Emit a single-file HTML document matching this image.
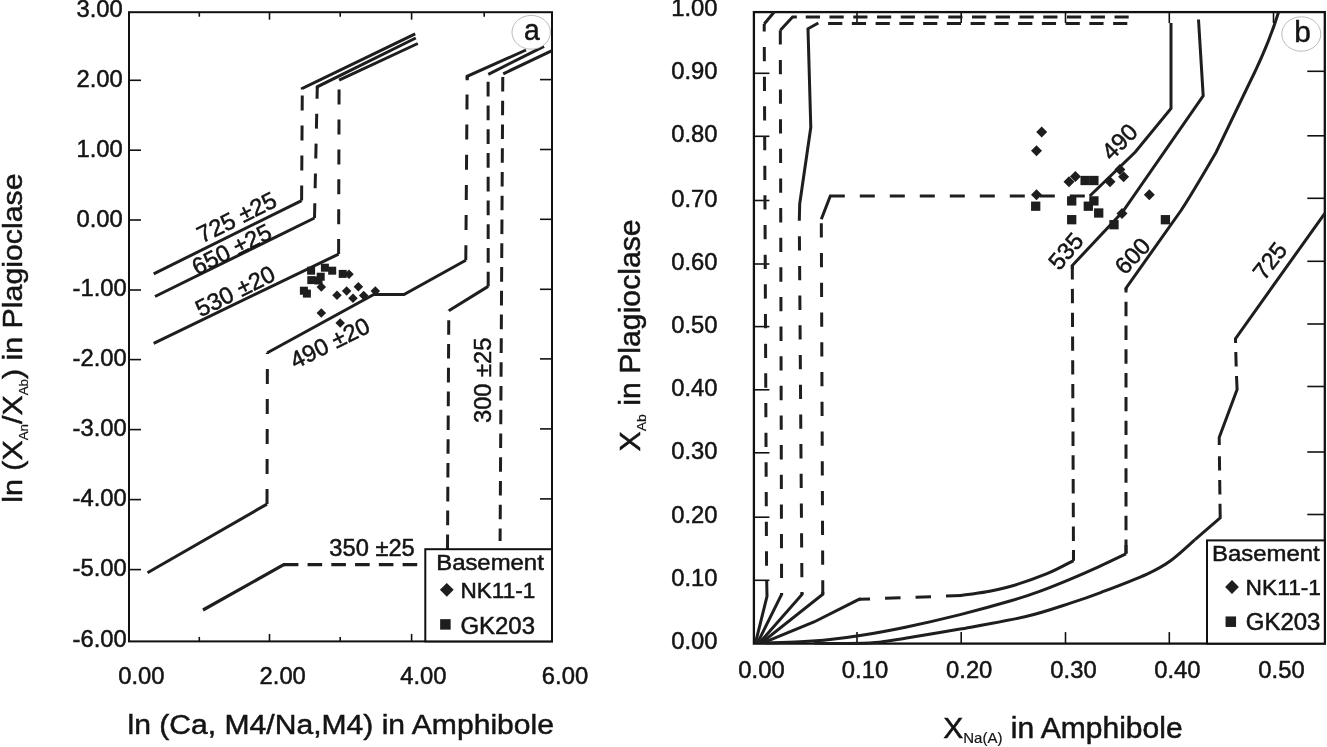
<!DOCTYPE html>
<html><head><meta charset="utf-8"><title>Figure</title>
<style>
html,body{margin:0;padding:0;background:#fff;}
body{width:1327px;height:747px;overflow:hidden;}
svg{display:block;}
svg text{font-family:"Liberation Sans",sans-serif;fill:#141414;stroke:#141414;stroke-width:0.5px;}
</style></head><body>
<svg width="1327" height="747" viewBox="0 0 1327 747">
<rect x="0" y="0" width="1327" height="747" fill="#fff"/>
<rect x="129" y="12.2" width="423" height="629.1999999999999" fill="none" stroke="#111" stroke-width="2"/>
<line x1="129" y1="80.3" x2="141" y2="80.3" stroke="#111" stroke-width="1.6" />
<line x1="540" y1="79.6" x2="552" y2="79.6" stroke="#111" stroke-width="1.6" />
<text x="0" y="0" font-size="23.8" text-anchor="middle" transform="translate(99.6,86.8)" >2.00</text>
<line x1="129" y1="150.2" x2="141" y2="150.2" stroke="#111" stroke-width="1.6" />
<line x1="540" y1="149.5" x2="552" y2="149.5" stroke="#111" stroke-width="1.6" />
<text x="0" y="0" font-size="23.8" text-anchor="middle" transform="translate(99.6,156.7)" >1.00</text>
<line x1="129" y1="220" x2="141" y2="220" stroke="#111" stroke-width="1.6" />
<line x1="540" y1="219.3" x2="552" y2="219.3" stroke="#111" stroke-width="1.6" />
<text x="0" y="0" font-size="23.8" text-anchor="middle" transform="translate(99.6,226.5)" >0.00</text>
<line x1="129" y1="290" x2="141" y2="290" stroke="#111" stroke-width="1.6" />
<line x1="540" y1="289.3" x2="552" y2="289.3" stroke="#111" stroke-width="1.6" />
<text x="0" y="0" font-size="23.8" text-anchor="middle" transform="translate(99.6,295.9)" >-1.00</text>
<line x1="129" y1="359.6" x2="141" y2="359.6" stroke="#111" stroke-width="1.6" />
<line x1="540" y1="358.90000000000003" x2="552" y2="358.90000000000003" stroke="#111" stroke-width="1.6" />
<text x="0" y="0" font-size="23.8" text-anchor="middle" transform="translate(99.6,365.5)" >-2.00</text>
<line x1="129" y1="429.6" x2="141" y2="429.6" stroke="#111" stroke-width="1.6" />
<line x1="540" y1="428.90000000000003" x2="552" y2="428.90000000000003" stroke="#111" stroke-width="1.6" />
<text x="0" y="0" font-size="23.8" text-anchor="middle" transform="translate(99.6,435.5)" >-3.00</text>
<line x1="129" y1="499.6" x2="141" y2="499.6" stroke="#111" stroke-width="1.6" />
<line x1="540" y1="498.90000000000003" x2="552" y2="498.90000000000003" stroke="#111" stroke-width="1.6" />
<text x="0" y="0" font-size="23.8" text-anchor="middle" transform="translate(99.6,505.5)" >-4.00</text>
<line x1="129" y1="569.6" x2="141" y2="569.6" stroke="#111" stroke-width="1.6" />
<line x1="540" y1="568.9" x2="552" y2="568.9" stroke="#111" stroke-width="1.6" />
<text x="0" y="0" font-size="23.8" text-anchor="middle" transform="translate(99.6,575.5)" >-5.00</text>
<text x="0" y="0" font-size="23.8" text-anchor="middle" transform="translate(99.6,16.7)" >3.00</text>
<text x="0" y="0" font-size="23.8" text-anchor="middle" transform="translate(99.6,646.5)" >-6.00</text>
<line x1="199.3" y1="12.2" x2="199.3" y2="16.7" stroke="#111" stroke-width="1.6" />
<line x1="199.3" y1="641.4" x2="199.3" y2="636.9" stroke="#111" stroke-width="1.6" />
<line x1="269.5" y1="12.2" x2="269.5" y2="19.7" stroke="#111" stroke-width="1.6" />
<line x1="269.5" y1="641.4" x2="269.5" y2="633.9" stroke="#111" stroke-width="1.6" />
<line x1="340.2" y1="12.2" x2="340.2" y2="16.7" stroke="#111" stroke-width="1.6" />
<line x1="340.2" y1="641.4" x2="340.2" y2="636.9" stroke="#111" stroke-width="1.6" />
<line x1="411.6" y1="12.2" x2="411.6" y2="19.7" stroke="#111" stroke-width="1.6" />
<line x1="411.6" y1="641.4" x2="411.6" y2="633.9" stroke="#111" stroke-width="1.6" />
<line x1="484.2" y1="12.2" x2="484.2" y2="16.7" stroke="#111" stroke-width="1.6" />
<text x="0" y="0" font-size="23.8" text-anchor="middle" transform="translate(141.4,684.2)" >0.00</text>
<text x="0" y="0" font-size="23.8" text-anchor="middle" transform="translate(282.7,684.2)" >2.00</text>
<text x="0" y="0" font-size="23.8" text-anchor="middle" transform="translate(423.4,684.2)" >4.00</text>
<text x="0" y="0" font-size="23.8" text-anchor="middle" transform="translate(565,684.2)" >6.00</text>
<text x="0" y="0" font-size="28.4" text-anchor="middle" transform="translate(340.75,734) scale(1.06,1)" >ln (Ca, M4/Na,M4) in Amphibole</text>
<text transform="translate(22.3,338) rotate(-90) scale(1.068,1)" text-anchor="middle" font-size="28.4">ln (X<tspan font-size="12.5" dy="5.5" stroke-width="0.2">An</tspan><tspan dy="-5.5">/X</tspan><tspan font-size="12.5" dy="5.5" stroke-width="0.2">Ab</tspan><tspan dy="-5.5">) in Plagioclase</tspan></text>
<polyline points="153.7,273.8 301.6,200.6" fill="none" stroke="#1e1e1e" stroke-width="3.0" stroke-linejoin="miter" stroke-linecap="butt"/>
<polyline points="301.6,200.6 302.3,88.4" fill="none" stroke="#1e1e1e" stroke-width="3.0" stroke-linejoin="miter" stroke-linecap="butt" stroke-dasharray="15 15" stroke-dashoffset="0"/>
<polyline points="302.3,89.5 302.3,88.4 415.2,33.8" fill="none" stroke="#1e1e1e" stroke-width="3.0" stroke-linejoin="miter" stroke-linecap="butt"/>
<polyline points="155,296.5 314.5,218" fill="none" stroke="#1e1e1e" stroke-width="3.0" stroke-linejoin="miter" stroke-linecap="butt"/>
<polyline points="314.5,218 317.3,86.8" fill="none" stroke="#1e1e1e" stroke-width="3.0" stroke-linejoin="miter" stroke-linecap="butt" stroke-dasharray="14.8 15" stroke-dashoffset="0"/>
<polyline points="317.3,88.5 317.3,86.8 415.8,38" fill="none" stroke="#1e1e1e" stroke-width="3.0" stroke-linejoin="miter" stroke-linecap="butt"/>
<polyline points="153.7,343.3 338.6,254.1" fill="none" stroke="#1e1e1e" stroke-width="3.0" stroke-linejoin="miter" stroke-linecap="butt"/>
<polyline points="338.6,254.1 339.1,80.1" fill="none" stroke="#1e1e1e" stroke-width="3.0" stroke-linejoin="miter" stroke-linecap="butt" stroke-dasharray="15 14.9" stroke-dashoffset="0"/>
<polyline points="339.1,80.1 417.8,43.5" fill="none" stroke="#1e1e1e" stroke-width="3.0" stroke-linejoin="miter" stroke-linecap="butt"/>
<polyline points="267.4,352.8 373.8,294.5 404,294.5 465.8,260.2" fill="none" stroke="#1e1e1e" stroke-width="3.0" stroke-linejoin="miter" stroke-linecap="butt"/>
<polyline points="465.8,260.2 467.2,76.3" fill="none" stroke="#1e1e1e" stroke-width="3.0" stroke-linejoin="miter" stroke-linecap="butt" stroke-dasharray="15 15.15" stroke-dashoffset="0"/>
<polyline points="467.2,80.2 467.2,76.3 526,50" fill="none" stroke="#1e1e1e" stroke-width="3.0" stroke-linejoin="miter" stroke-linecap="butt"/>
<polyline points="267,504.1 267.4,352.8" fill="none" stroke="#1e1e1e" stroke-width="3.0" stroke-linejoin="miter" stroke-linecap="butt" stroke-dasharray="15 15" stroke-dashoffset="0"/>
<polyline points="267.4,354 267.4,352.8" fill="none" stroke="#1e1e1e" stroke-width="3.0" stroke-linejoin="miter" stroke-linecap="butt"/>
<polyline points="267,504.1 147.5,572.8" fill="none" stroke="#1e1e1e" stroke-width="3.0" stroke-linejoin="miter" stroke-linecap="butt"/>
<polyline points="448.8,310.7 488.2,286.4" fill="none" stroke="#1e1e1e" stroke-width="3.0" stroke-linejoin="miter" stroke-linecap="butt"/>
<polyline points="488.2,286.4 488.1,81" fill="none" stroke="#1e1e1e" stroke-width="3.0" stroke-linejoin="miter" stroke-linecap="butt" stroke-dasharray="14.6 9.15" stroke-dashoffset="0"/>
<polyline points="488.3,74.3 544,46.3" fill="none" stroke="#1e1e1e" stroke-width="3.0" stroke-linejoin="miter" stroke-linecap="butt"/>
<polyline points="447.5,549 448.8,310.7" fill="none" stroke="#1e1e1e" stroke-width="3.0" stroke-linejoin="miter" stroke-linecap="butt" stroke-dasharray="14.6 9.2" stroke-dashoffset="0"/>
<polyline points="203,610 283.8,564.7 285,564.7" fill="none" stroke="#1e1e1e" stroke-width="3.2" stroke-linejoin="miter" stroke-linecap="butt"/>
<polyline points="283.8,564.7 425,564.7" fill="none" stroke="#1e1e1e" stroke-width="3.2" stroke-linejoin="miter" stroke-linecap="butt" stroke-dasharray="14.6 9.16" stroke-dashoffset="0"/>
<polyline points="503.2,73.8 552,50.6" fill="none" stroke="#1e1e1e" stroke-width="3.0" stroke-linejoin="miter" stroke-linecap="butt"/>
<polyline points="502.8,73.8 500.1,541" fill="none" stroke="#1e1e1e" stroke-width="3.0" stroke-linejoin="miter" stroke-linecap="butt" stroke-dasharray="14.6 9.17" stroke-dashoffset="-3.1"/>
<text x="0" y="0" font-size="23.7" text-anchor="start" transform="translate(202.1,243.6) rotate(-26.4)" >725 ±25</text>
<text x="0" y="0" font-size="23.7" text-anchor="start" transform="translate(196.9,275.7) rotate(-26.4)" >650 ±25</text>
<text x="0" y="0" font-size="23.7" text-anchor="start" transform="translate(200.5,317.5) rotate(-26.4)" >530 ±20</text>
<text x="0" y="0" font-size="23.7" text-anchor="start" transform="translate(295.3,369.3) rotate(-26.4)" >490 ±20</text>
<text x="0" y="0" font-size="23.7" text-anchor="start" transform="translate(329.3,556)" >350 ±25</text>
<text x="0" y="0" font-size="23.7" text-anchor="start" transform="translate(491,423) rotate(-90)" >300 ±25</text>
<rect x="307.10" y="266.70" width="8.0" height="8.0" fill="#1e1e1e"/>
<rect x="320.90" y="263.70" width="8.0" height="8.0" fill="#1e1e1e"/>
<rect x="328.20" y="266.70" width="8.0" height="8.0" fill="#1e1e1e"/>
<rect x="338.70" y="269.90" width="8.0" height="8.0" fill="#1e1e1e"/>
<rect x="307.30" y="276.10" width="8.0" height="8.0" fill="#1e1e1e"/>
<rect x="314.50" y="276.50" width="8.0" height="8.0" fill="#1e1e1e"/>
<rect x="316.70" y="272.70" width="8.0" height="8.0" fill="#1e1e1e"/>
<rect x="299.90" y="286.70" width="8.0" height="8.0" fill="#1e1e1e"/>
<rect x="302.90" y="289.60" width="8.0" height="8.0" fill="#1e1e1e"/>
<polygon points="344.25,274.3 349,269.55 353.75,274.3 349,279.05" fill="#1e1e1e"/>
<polygon points="316.55,287.1 321.3,282.35 326.05,287.1 321.3,291.85" fill="#1e1e1e"/>
<polygon points="353.65,286.7 358.4,281.95 363.15,286.7 358.4,291.45" fill="#1e1e1e"/>
<polygon points="341.85,291 346.6,286.25 351.35,291 346.6,295.75" fill="#1e1e1e"/>
<polygon points="332.25,295.2 337,290.45 341.75,295.2 337,299.95" fill="#1e1e1e"/>
<polygon points="358.95,295.5 363.7,290.75 368.45,295.5 363.7,300.25" fill="#1e1e1e"/>
<polygon points="348.25,298.2 353,293.45 357.75,298.2 353,302.95" fill="#1e1e1e"/>
<polygon points="370.55,291 375.3,286.25 380.05,291 375.3,295.75" fill="#1e1e1e"/>
<polygon points="316.55,312.9 321.3,308.15 326.05,312.9 321.3,317.65" fill="#1e1e1e"/>
<polygon points="335.45,323.1 340.2,318.35 344.95,323.1 340.2,327.85" fill="#1e1e1e"/>
<rect x="425.3" y="549.2" width="126.69999999999999" height="92.19999999999993" fill="#fff" stroke="#111" stroke-width="2"/>
<text x="0" y="0" font-size="21.6" text-anchor="start" transform="translate(436.2,570.4) scale(1.107,1)" >Basement</text>
<polygon points="439.90,589.8 446.8,582.90 453.70,589.8 446.8,596.70" fill="#1e1e1e"/>
<rect x="440.15" y="619.15" width="10.5" height="10.5" fill="#1e1e1e"/>
<text x="0" y="0" font-size="22.1" text-anchor="start" transform="translate(460.5,597.9) scale(1.02,1)" >NK11-1</text>
<text x="0" y="0" font-size="23" text-anchor="start" transform="translate(460.4,633.6) scale(1.043,1)" >GK203</text>
<ellipse cx="531.2" cy="32.3" rx="19.2" ry="16.9" fill="#fff" stroke="#aaa" stroke-width="0.8"/>
<text x="0" y="0" font-size="29.8" text-anchor="middle" transform="translate(531.8,40.1) scale(0.95,1)" stroke-width="0.15">a</text>
<rect x="753.9" y="12.1" width="570.9" height="631.5" fill="none" stroke="#111" stroke-width="2.3"/>
<line x1="753.9" y1="73.3" x2="769.4" y2="73.3" stroke="#111" stroke-width="1.6" />
<line x1="1307.3" y1="71.3" x2="1324.8" y2="71.3" stroke="#111" stroke-width="1.6" />
<text x="0" y="0" font-size="23.8" text-anchor="end" transform="translate(717.6,79)" >0.90</text>
<line x1="753.9" y1="136.3" x2="769.4" y2="136.3" stroke="#111" stroke-width="1.6" />
<line x1="1307.3" y1="135.8" x2="1324.8" y2="135.8" stroke="#111" stroke-width="1.6" />
<text x="0" y="0" font-size="23.8" text-anchor="end" transform="translate(717.6,142.2)" >0.80</text>
<line x1="753.9" y1="200.5" x2="769.4" y2="200.5" stroke="#111" stroke-width="1.6" />
<line x1="1307.3" y1="198.3" x2="1324.8" y2="198.3" stroke="#111" stroke-width="1.6" />
<text x="0" y="0" font-size="23.8" text-anchor="end" transform="translate(717.6,206.8)" >0.70</text>
<line x1="753.9" y1="264" x2="769.4" y2="264" stroke="#111" stroke-width="1.6" />
<line x1="1307.3" y1="261.3" x2="1324.8" y2="261.3" stroke="#111" stroke-width="1.6" />
<text x="0" y="0" font-size="23.8" text-anchor="end" transform="translate(717.6,269.8)" >0.60</text>
<line x1="753.9" y1="326.6" x2="769.4" y2="326.6" stroke="#111" stroke-width="1.6" />
<line x1="1307.3" y1="324" x2="1324.8" y2="324" stroke="#111" stroke-width="1.6" />
<text x="0" y="0" font-size="23.8" text-anchor="end" transform="translate(717.6,332.6)" >0.50</text>
<line x1="753.9" y1="389.8" x2="769.4" y2="389.8" stroke="#111" stroke-width="1.6" />
<line x1="1307.3" y1="386.5" x2="1324.8" y2="386.5" stroke="#111" stroke-width="1.6" />
<text x="0" y="0" font-size="23.8" text-anchor="end" transform="translate(717.6,395.5)" >0.40</text>
<line x1="753.9" y1="452.8" x2="769.4" y2="452.8" stroke="#111" stroke-width="1.6" />
<line x1="1307.3" y1="452" x2="1324.8" y2="452" stroke="#111" stroke-width="1.6" />
<text x="0" y="0" font-size="23.8" text-anchor="end" transform="translate(717.6,458.6)" >0.30</text>
<line x1="753.9" y1="517.2" x2="769.4" y2="517.2" stroke="#111" stroke-width="1.6" />
<line x1="1307.3" y1="514.5" x2="1324.8" y2="514.5" stroke="#111" stroke-width="1.6" />
<text x="0" y="0" font-size="23.8" text-anchor="end" transform="translate(717.6,522.9)" >0.20</text>
<line x1="753.9" y1="580.3" x2="769.4" y2="580.3" stroke="#111" stroke-width="1.6" />
<text x="0" y="0" font-size="23.8" text-anchor="end" transform="translate(717.6,586.1)" >0.10</text>
<text x="0" y="0" font-size="23.8" text-anchor="end" transform="translate(717.6,16.4)" >1.00</text>
<text x="0" y="0" font-size="23.8" text-anchor="end" transform="translate(717.6,649)" >0.00</text>
<line x1="857" y1="12.1" x2="857" y2="23.1" stroke="#111" stroke-width="1.6" />
<line x1="857" y1="643.6" x2="857" y2="632.1" stroke="#111" stroke-width="1.6" />
<text x="0" y="0" font-size="23.8" text-anchor="middle" transform="translate(865,677.5)" >0.10</text>
<line x1="961.2" y1="12.1" x2="961.2" y2="23.1" stroke="#111" stroke-width="1.6" />
<line x1="961.2" y1="643.6" x2="961.2" y2="632.1" stroke="#111" stroke-width="1.6" />
<text x="0" y="0" font-size="23.8" text-anchor="middle" transform="translate(969.2,677.5)" >0.20</text>
<line x1="1065.5" y1="12.1" x2="1065.5" y2="23.1" stroke="#111" stroke-width="1.6" />
<line x1="1065.5" y1="643.6" x2="1065.5" y2="632.1" stroke="#111" stroke-width="1.6" />
<text x="0" y="0" font-size="23.8" text-anchor="middle" transform="translate(1073.5,677.5)" >0.30</text>
<line x1="1169.3" y1="12.1" x2="1169.3" y2="23.1" stroke="#111" stroke-width="1.6" />
<line x1="1169.3" y1="643.6" x2="1169.3" y2="632.1" stroke="#111" stroke-width="1.6" />
<text x="0" y="0" font-size="23.8" text-anchor="middle" transform="translate(1177.3,677.5)" >0.40</text>
<line x1="1273.5" y1="12.1" x2="1273.5" y2="23.1" stroke="#111" stroke-width="1.6" />
<text x="0" y="0" font-size="23.8" text-anchor="middle" transform="translate(1281.5,677.5)" >0.50</text>
<text x="0" y="0" font-size="23.8" text-anchor="middle" transform="translate(761.5,677.5)" >0.00</text>
<text transform="translate(1062.9,738) scale(1.043,1)" text-anchor="middle" font-size="28.8">X<tspan font-size="14.4" dy="5" stroke-width="0.2">Na(A)</tspan><tspan dy="-5"> in Amphibole</tspan></text>
<text transform="translate(640.3,335.4) rotate(-90) scale(1.049,1)" text-anchor="middle" font-size="28.8">X<tspan font-size="13.4" dy="6" stroke-width="0.2">Ab</tspan><tspan dy="-6"> in Plagioclase</tspan></text>
<polyline points="774,12.2 764.2,24" fill="none" stroke="#1e1e1e" stroke-width="3.0" stroke-linejoin="miter" stroke-linecap="butt"/>
<polyline points="764.2,24 766.6,581.2" fill="none" stroke="#1e1e1e" stroke-width="3.0" stroke-linejoin="miter" stroke-linecap="butt" stroke-dasharray="14.3 15.37" stroke-dashoffset="6.7"/>
<polyline points="766.7,581 767,596.3 755.5,642.8" fill="none" stroke="#1e1e1e" stroke-width="3.0" stroke-linejoin="miter" stroke-linecap="butt"/>
<polyline points="1128.7,17.1 805.5,17.1" fill="none" stroke="#1e1e1e" stroke-width="3.0" stroke-linejoin="miter" stroke-linecap="butt" stroke-dasharray="14.2 9.55" stroke-dashoffset="0"/>
<polyline points="796.8,17.1 792.6,17.1 780.3,30.3" fill="none" stroke="#1e1e1e" stroke-width="3.0" stroke-linejoin="miter" stroke-linecap="butt"/>
<polyline points="780.3,30.3 781.6,594.5" fill="none" stroke="#1e1e1e" stroke-width="3.0" stroke-linejoin="miter" stroke-linecap="butt" stroke-dasharray="14.3 15.33" stroke-dashoffset="0"/>
<polyline points="781.6,593 781.6,594.5 757.5,642.8" fill="none" stroke="#1e1e1e" stroke-width="3.0" stroke-linejoin="miter" stroke-linecap="butt"/>
<polyline points="1127.3,23.5 827,23.5" fill="none" stroke="#1e1e1e" stroke-width="3.0" stroke-linejoin="miter" stroke-linecap="butt" stroke-dasharray="14.2 9.55" stroke-dashoffset="0"/>
<polyline points="818.3,23 808,28.8 810.8,127.3 799.7,204 799.3,220.8" fill="none" stroke="#1e1e1e" stroke-width="3.0" stroke-linejoin="miter" stroke-linecap="butt"/>
<polyline points="799.3,220.8 802,594.5" fill="none" stroke="#1e1e1e" stroke-width="3.0" stroke-linejoin="miter" stroke-linecap="butt" stroke-dasharray="14.3 15.4" stroke-dashoffset="14.3"/>
<polyline points="802,592 802,594.5 759.5,642.8" fill="none" stroke="#1e1e1e" stroke-width="3.0" stroke-linejoin="miter" stroke-linecap="butt"/>
<polyline points="1171,23 1171,108.5 1135.3,152 1089.8,196" fill="none" stroke="#1e1e1e" stroke-width="3.0" stroke-linejoin="miter" stroke-linecap="butt"/>
<polyline points="1089.8,196 844,196" fill="none" stroke="#1e1e1e" stroke-width="3.0" stroke-linejoin="miter" stroke-linecap="butt" stroke-dasharray="15 15" stroke-dashoffset="-5"/>
<polyline points="844,196 830.3,196 821.3,219.2" fill="none" stroke="#1e1e1e" stroke-width="3.0" stroke-linejoin="miter" stroke-linecap="butt"/>
<polyline points="821.3,219.2 822.8,594.2" fill="none" stroke="#1e1e1e" stroke-width="3.0" stroke-linejoin="miter" stroke-linecap="butt" stroke-dasharray="14.3 15.45" stroke-dashoffset="-4"/>
<polyline points="822.8,592 822.8,594.2 761.5,642.8" fill="none" stroke="#1e1e1e" stroke-width="3.0" stroke-linejoin="miter" stroke-linecap="butt"/>
<polyline points="1198.5,19.5 1203.2,95.8 1122.5,212 1072.3,265.5 1072.3,269" fill="none" stroke="#1e1e1e" stroke-width="3.0" stroke-linejoin="miter" stroke-linecap="butt"/>
<polyline points="1072.3,265.1 1073.5,560.5" fill="none" stroke="#1e1e1e" stroke-width="3.0" stroke-linejoin="miter" stroke-linecap="butt" stroke-dasharray="14.4 9.37" stroke-dashoffset="0"/>
<polyline points="1073.5,550 1073.5,560.6" fill="none" stroke="#1e1e1e" stroke-width="3.0" stroke-linejoin="miter" stroke-linecap="butt"/>
<path d="M1073.5,560.6 C1069.08,562.78 1057.43,569.42 1047,573.7 C1036.57,577.98 1020.95,583.30 1010.9,586.3 C1000.85,589.30 995.10,590.17 986.7,591.7 C978.30,593.23 964.87,594.87 960.5,595.5" fill="none" stroke="#1e1e1e" stroke-width="3.0" stroke-linejoin="miter"/>
<polyline points="961.5,595.5 859,599.3" fill="none" stroke="#1e1e1e" stroke-width="3.0" stroke-linejoin="miter" stroke-linecap="butt" stroke-dasharray="15.5 15" stroke-dashoffset="0"/>
<polyline points="861,599.3 859,599.3 814,622 763,642.8" fill="none" stroke="#1e1e1e" stroke-width="3.0" stroke-linejoin="miter" stroke-linecap="butt"/>
<path d="M1278.5,12.2 C1270,40 1262,58 1248.5,85 L1216,152.5 C1200,180 1190,197 1181,210.5 L1126,288.2 L1126,290" fill="none" stroke="#1e1e1e" stroke-width="3.0"/>
<polyline points="1126,288.3 1126,553.6" fill="none" stroke="#1e1e1e" stroke-width="3.0" stroke-linejoin="miter" stroke-linecap="butt" stroke-dasharray="14.4 9.38" stroke-dashoffset="10.3"/>
<polyline points="1126,545 1126,553.8" fill="none" stroke="#1e1e1e" stroke-width="3.0" stroke-linejoin="miter" stroke-linecap="butt"/>
<path d="M1126,553.8 C1121.42,555.97 1107.65,562.63 1098.5,566.8 C1089.35,570.97 1080.68,574.80 1071.1,578.8 C1061.52,582.80 1051.03,587.13 1041,590.8 C1030.97,594.47 1024.37,596.83 1010.9,600.8 C997.43,604.77 977.78,610.20 960.2,614.6 C942.62,619.00 922.08,623.70 905.4,627.2 C888.72,630.70 872.67,633.53 860.1,635.6 C847.53,637.67 840.02,638.57 830,639.6 C819.98,640.63 810.83,641.25 800,641.8 C789.17,642.35 770.83,642.72 765,642.9" fill="none" stroke="#1e1e1e" stroke-width="3.0" stroke-linejoin="miter"/>
<polyline points="1324.8,213.3 1235.5,338.6 1235.6,343" fill="none" stroke="#1e1e1e" stroke-width="3.0" stroke-linejoin="miter" stroke-linecap="butt"/>
<polyline points="1235.8,352 1236.2,366.5" fill="none" stroke="#1e1e1e" stroke-width="3.0" stroke-linejoin="miter" stroke-linecap="butt"/>
<polyline points="1236.5,376 1237.1,389.6 1219.2,437.4 1219.3,445" fill="none" stroke="#1e1e1e" stroke-width="3.0" stroke-linejoin="miter" stroke-linecap="butt"/>
<polyline points="1219.4,456.3 1219.6,470.5" fill="none" stroke="#1e1e1e" stroke-width="3.0" stroke-linejoin="miter" stroke-linecap="butt"/>
<polyline points="1219.7,480 1219.9,494.4" fill="none" stroke="#1e1e1e" stroke-width="3.0" stroke-linejoin="miter" stroke-linecap="butt"/>
<polyline points="1220,503.8 1220.2,517.8 1195,539.6" fill="none" stroke="#1e1e1e" stroke-width="3.0" stroke-linejoin="miter" stroke-linecap="butt"/>
<path d="M1195,539.6 C1190.93,543.12 1178.68,554.92 1170.6,560.7 C1162.52,566.48 1158.05,569.03 1146.5,574.3 C1134.95,579.57 1113.87,587.53 1101.3,592.3 C1088.73,597.07 1083.67,598.87 1071.1,602.9 C1058.53,606.93 1044.38,612.13 1025.9,616.5 C1007.42,620.87 980.28,625.48 960.2,629.1 C940.12,632.72 919.57,635.95 905.4,638.2 C891.23,640.45 885.27,641.70 875.2,642.6 C865.13,643.50 855.20,643.53 845,643.6 C834.80,643.67 819.17,643.10 814,643" fill="none" stroke="#1e1e1e" stroke-width="3.0" stroke-linejoin="miter"/>
<text x="0" y="0" font-size="23.7" text-anchor="middle" transform="translate(1119.6,141.8) rotate(-45.5)" dy="8">490</text>
<text x="0" y="0" font-size="23.7" text-anchor="middle" transform="translate(1066,251.2) rotate(-49.5)" dy="8">535</text>
<text x="0" y="0" font-size="23.7" text-anchor="middle" transform="translate(1132.6,256) rotate(-47)" dy="8">600</text>
<text x="0" y="0" font-size="23.7" text-anchor="middle" transform="translate(1270,261) rotate(-52)" dy="8">725</text>
<rect x="1080.45" y="175.85" width="9.3" height="9.3" fill="#1e1e1e"/>
<rect x="1089.25" y="175.85" width="9.3" height="9.3" fill="#1e1e1e"/>
<rect x="1067.05" y="196.25" width="9.3" height="9.3" fill="#1e1e1e"/>
<rect x="1089.25" y="196.25" width="9.3" height="9.3" fill="#1e1e1e"/>
<rect x="1083.65" y="201.55" width="9.3" height="9.3" fill="#1e1e1e"/>
<rect x="1031.05" y="201.55" width="9.3" height="9.3" fill="#1e1e1e"/>
<rect x="1094.05" y="208.35" width="9.3" height="9.3" fill="#1e1e1e"/>
<rect x="1067.05" y="215.05" width="9.3" height="9.3" fill="#1e1e1e"/>
<rect x="1109.35" y="220.05" width="9.3" height="9.3" fill="#1e1e1e"/>
<rect x="1160.75" y="215.05" width="9.3" height="9.3" fill="#1e1e1e"/>
<polygon points="1036.20,131.9 1041.7,126.40 1047.20,131.9 1041.7,137.40" fill="#1e1e1e"/>
<polygon points="1031.00,150.8 1036.5,145.30 1042.00,150.8 1036.5,156.30" fill="#1e1e1e"/>
<polygon points="1069.90,176.4 1075.4,170.90 1080.90,176.4 1075.4,181.90" fill="#1e1e1e"/>
<polygon points="1063.50,181.7 1069,176.20 1074.50,181.7 1069,187.20" fill="#1e1e1e"/>
<polygon points="1114.40,169.6 1119.9,164.10 1125.40,169.6 1119.9,175.10" fill="#1e1e1e"/>
<polygon points="1118.10,176.8 1123.6,171.30 1129.10,176.8 1123.6,182.30" fill="#1e1e1e"/>
<polygon points="1104.50,181.7 1110,176.20 1115.50,181.7 1110,187.20" fill="#1e1e1e"/>
<polygon points="1031.00,194.8 1036.5,189.30 1042.00,194.8 1036.5,200.30" fill="#1e1e1e"/>
<polygon points="1143.80,194.8 1149.3,189.30 1154.80,194.8 1149.3,200.30" fill="#1e1e1e"/>
<polygon points="1116.50,213.5 1122,208.00 1127.50,213.5 1122,219.00" fill="#1e1e1e"/>
<rect x="1207" y="540.4" width="117.79999999999995" height="103.20000000000005" fill="#fff" stroke="#111" stroke-width="2"/>
<text x="0" y="0" font-size="21.6" text-anchor="start" transform="translate(1212.1,561) scale(1.107,1)" >Basement</text>
<polygon points="1225.10,587 1232,580.10 1238.90,587 1232,593.90" fill="#1e1e1e"/>
<rect x="1225.55" y="616.45" width="10.5" height="10.5" fill="#1e1e1e"/>
<text x="0" y="0" font-size="22.3" text-anchor="start" transform="translate(1245.6,594.5) scale(1.02,1)" >NK11-1</text>
<text x="0" y="0" font-size="23" text-anchor="start" transform="translate(1245.8,629.6) scale(1.043,1)" >GK203</text>
<ellipse cx="1301.3" cy="34" rx="19.5" ry="17.2" fill="#fff" stroke="#aaa" stroke-width="0.8"/>
<text x="0" y="0" font-size="29.8" text-anchor="middle" transform="translate(1302.5,41.8)" stroke-width="0.15">b</text>
</svg>
</body></html>
